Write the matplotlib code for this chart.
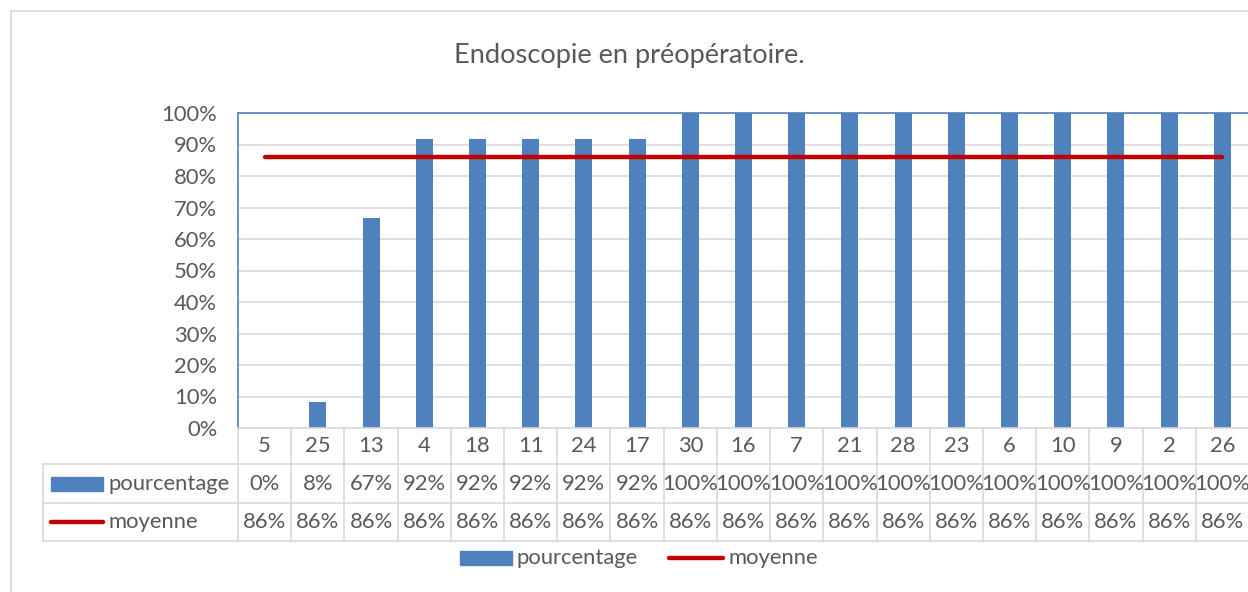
import matplotlib
matplotlib.use("Agg")
import matplotlib.pyplot as plt
from matplotlib.patches import Rectangle
from matplotlib.lines import Line2D
from matplotlib.transforms import blended_transform_factory

# data
categories = ["5", "25", "13", "4", "18", "11", "24", "17", "30", "16",
              "7", "21", "28", "23", "6", "10", "9", "2", "26"]
pourcentage = [0.0, 0.083, 0.667, 0.917, 0.917, 0.917, 0.917, 0.917, 1.0, 1.0,
               1.0, 1.0, 1.0, 1.0, 1.0, 1.0, 1.0, 1.0, 1.0]
moyenne = [0.86] * len(categories)
y_ticks = [0, 0.1, 0.2, 0.3, 0.4, 0.5, 0.6, 0.7, 0.8, 0.9, 1.0]

BLUE = "#4F81BD"
RED = "#C00000"
TEXT = "#595959"
GRID = "#D9D9D9"
FONT = "Lato"
FS = 15.8
FS_TITLE = 19.6

W, H = 1248, 592
fig = plt.figure(figsize=(W / 100, H / 100), dpi=100)
plt.rcParams["font.family"] = FONT


def fx(x):
    return x / W


def fy(y):
    return 1 - y / H


# chart border
fig.add_artist(Line2D([fx(11), fx(11)], [fy(11), fy(600)], color=GRID, lw=1.2,
                      transform=fig.transFigure))
fig.add_artist(Line2D([fx(11), fx(1260)], [fy(11), fy(11)], color=GRID, lw=1.2,
                      transform=fig.transFigure))

# plot area
left, right, top, bottom = 238, 1249, 113, 428
ax = fig.add_axes([fx(left), fy(bottom), (right - left) / W, (bottom - top) / H])
x = list(range(len(categories)))
ax.bar(x, pourcentage, width=0.32, color=BLUE, zorder=2)
ax.plot(x, moyenne, color=RED, lw=3.2, solid_capstyle="round", zorder=3)
ax.set_xlim(-0.5, len(categories) - 0.5)
ax.set_ylim(0, 1)
ax.set_yticks(y_ticks)
ax.set_yticklabels([f"{int(round(t * 100))}%" for t in y_ticks])
ax.tick_params(axis="y", length=0, pad=15, labelsize=FS, labelcolor=TEXT)
ax.tick_params(axis="x", length=0, labelbottom=False)
ax.grid(axis="y", color=GRID, lw=1.2, zorder=0)
for s in ["left", "top", "right"]:
    ax.spines[s].set_color(BLUE)
    ax.spines[s].set_linewidth(1.2)
ax.spines["bottom"].set_color(GRID)
ax.spines["bottom"].set_linewidth(1.2)
for lab in ax.get_yticklabels():
    lab.set_fontfamily(FONT)

# title
fig.text(fx(629), fy(55), "Endoscopie en préopératoire.", ha="center", va="center",
         fontsize=FS_TITLE, color=TEXT, family=FONT)

# data table below the axis
tr = blended_transform_factory(ax.transData, ax.transAxes)
ph = bottom - top
rows_px = [0, 36, 75, 113]
rows = [-r / ph for r in rows_px]
x_left_tab = (43 - left) / ((right - left) / len(categories)) - 0.5
xr = len(categories) - 0.5
lw_t = 1.2
for r in rows[1:]:
    ax.add_line(Line2D([x_left_tab, xr], [r] * 2, color=GRID, lw=lw_t,
                       transform=tr, clip_on=False))
ax.add_line(Line2D([x_left_tab] * 2, [rows[1], rows[3]], color=GRID, lw=lw_t,
                   transform=tr, clip_on=False))
for i in range(len(categories) + 1):
    ax.add_line(Line2D([i - 0.5] * 2, [rows[0], rows[3]], color=GRID, lw=lw_t,
                       transform=tr, clip_on=False))

row_mid = [(rows[k] + rows[k + 1]) / 2 for k in range(3)]
for i, cat in enumerate(categories):
    ax.text(i, row_mid[0], cat, transform=tr, ha="center", va="center",
            fontsize=FS, color=TEXT, family=FONT, clip_on=False)
    ax.text(i, row_mid[1], f"{round(pourcentage[i] * 100):.0f}%", transform=tr,
            ha="center", va="center", fontsize=FS, color=TEXT, family=FONT, clip_on=False)
    ax.text(i, row_mid[2], f"{round(moyenne[i] * 100):.0f}%", transform=tr,
            ha="center", va="center", fontsize=FS, color=TEXT, family=FONT, clip_on=False)

# row headers with legend keys
y_p = (bottom + (rows_px[1] + rows_px[2]) / 2)
y_m = (bottom + (rows_px[2] + rows_px[3]) / 2)
fig.add_artist(Rectangle((fx(51), fy(y_p + 7)), (103 - 51) / W, 14 / H, color=BLUE,
                         transform=fig.transFigure))
fig.text(fx(108), fy(y_p), "pourcentage", ha="left", va="center", fontsize=FS,
         color=TEXT, family=FONT)
fig.add_artist(Line2D([fx(51), fx(103)], [fy(y_m)] * 2, color=RED, lw=3.2,
                      solid_capstyle="round", transform=fig.transFigure))
fig.text(fx(108), fy(y_m), "moyenne", ha="left", va="center", fontsize=FS,
         color=TEXT, family=FONT)

# bottom legend
y_leg = 558
fig.add_artist(Rectangle((fx(460), fy(y_leg + 7)), (512 - 460) / W, 14 / H, color=BLUE,
                         transform=fig.transFigure))
fig.text(fx(517), fy(y_leg), "pourcentage", ha="left", va="center", fontsize=FS,
         color=TEXT, family=FONT)
fig.add_artist(Line2D([fx(669), fx(723)], [fy(y_leg)] * 2, color=RED, lw=3.2,
                      solid_capstyle="round", transform=fig.transFigure))
fig.text(fx(728), fy(y_leg), "moyenne", ha="left", va="center", fontsize=FS,
         color=TEXT, family=FONT)

fig.savefig("out.png", dpi=100)
